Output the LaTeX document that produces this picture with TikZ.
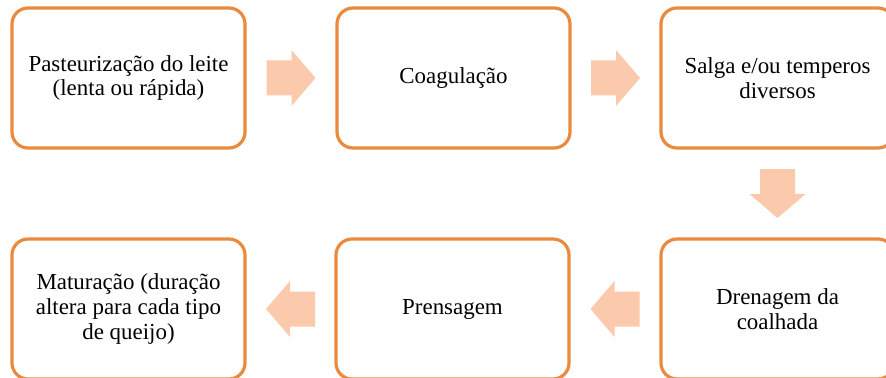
\documentclass[tikz,border=0pt]{standalone}
\usepackage{fontspec}
\setmainfont{Liberation Serif}
\usetikzlibrary{calc}
\definecolor{boxorange}{RGB}{233,138,62}
\definecolor{arrowpeach}{RGB}{251,202,172}
\tikzset{
  stepbox/.style={draw=boxorange, line width=2.4pt, rounded corners=12pt, fill=white,
    minimum width=233*0.75pt, minimum height=140*0.75pt, inner sep=0pt,
    align=center, font=\fontsize{17.2pt}{18.6pt}\selectfont},
  arrowshape/.style={fill=arrowpeach, draw=none}
}
\newcommand\blockarrow[2]{%
  \fill[arrowshape, shift={(#1)}, rotate=#2]
    (-24.5,-17.5) -- (0.5,-17.5) -- (0.5,-28) -- (24.5,0) -- (0.5,28) -- (0.5,17.5) -- (-24.5,17.5) -- cycle;}
\begin{document}
\begin{tikzpicture}[x=0.75pt, y=-0.75pt]
  \useasboundingbox (0,0) rectangle (886,378);
  \clip (0,0) rectangle (886,378);
  \node[stepbox] (b1) at (128.5,78) {Pasteurização do leite\\(lenta ou rápida)};
  \node[stepbox] (b2) at (453.5,78) {Coagulação};
  \node[stepbox] (b3) at (777.5,78) {Salga e/ou temperos\\diversos};
  \node[stepbox] (b6) at (777.5,309) {Drenagem da\\coalhada};
  \node[stepbox] (b4) at (452.5,309) {Prensagem};
  \node[stepbox] (b5) at (128.5,309) {Maturação (duração\\altera para cada tipo\\de queijo)};
  \coordinate (a1) at ($(b1.east)!0.5!(b2.west)$);
  \coordinate (a2) at ($(b2.east)!0.5!(b3.west)$);
  \coordinate (a3) at ($(b3.south)!0.5!(b6.north)$);
  \coordinate (a4) at ($(b6.west)!0.5!(b4.east)$);
  \coordinate (a5) at ($(b4.west)!0.5!(b5.east)$);
  \blockarrow{a1}{0}
  \blockarrow{a2}{0}
  \blockarrow{a3}{-90}
  \blockarrow{a4}{180}
  \blockarrow{a5}{180}
\end{tikzpicture}
\end{document}
